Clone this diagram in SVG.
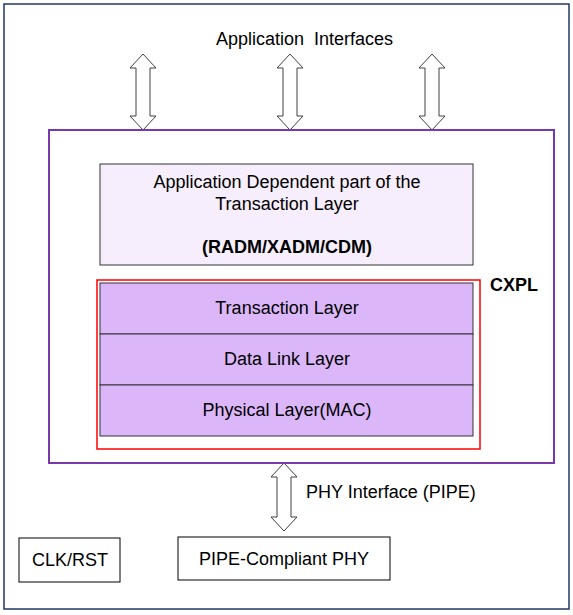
<svg xmlns="http://www.w3.org/2000/svg" width="573" height="615" viewBox="0 0 573 615">
<style>
text{font-family:"Liberation Sans",Arial,sans-serif;font-size:18px;fill:#000;text-anchor:middle}
.b{font-weight:bold}
.s{text-anchor:start}
.arr{fill:#fff;stroke:#404040;stroke-width:1}
.box{fill:#fff;stroke:#000;stroke-width:1}
.layer{fill:#dbb7fa;stroke:#333;stroke-width:1}
</style>
<defs>
<path id="dbl" d="M0,-38 L13,-24 L7,-24 L7,24 L13,24 L0,38 L-13,24 L-7,24 L-7,-24 L-13,-24 Z"/>
</defs>
<rect x="4" y="4" width="565" height="605" fill="#fff" stroke="#1f3864" stroke-width="1.5"/>
<text x="216" y="45" class="s" xml:space="preserve">Application  Interfaces</text>
<g id="connectors">
<use href="#dbl" class="arr" transform="translate(143,92)"/>
<use href="#dbl" class="arr" transform="translate(290,92)"/>
<use href="#dbl" class="arr" transform="translate(432,92)"/>
<path class="arr" d="M284,463 L297,477 L291,477 L291,517 L297,517 L284,531 L271,517 L277,517 L277,477 L271,477 Z"/>
</g>
<g id="cxpl">
<rect x="49" y="130" width="505" height="333" fill="#fff" stroke="#7a38ac" stroke-width="2"/>
<text x="490" y="291" class="b s">CXPL</text>
</g>
<g id="app-dependent">
<rect x="100" y="164" width="373" height="101" fill="#f6eefc" stroke="#333" stroke-width="1"/>
<text x="287" y="188">Application Dependent part of the</text>
<text x="287" y="210">Transaction Layer</text>
<text x="287" y="253" class="b">(RADM/XADM/CDM)</text>
</g>
<g id="core">
<rect x="97" y="280" width="383" height="169" fill="none" stroke="#ff0000" stroke-width="1.5"/>
</g>
<g id="transaction-layer">
<rect x="100" y="283" width="373" height="51" class="layer"/>
<text x="287" y="314">Transaction Layer</text>
</g>
<g id="data-link-layer">
<rect x="100" y="334" width="373" height="51" class="layer"/>
<text x="287" y="365">Data Link Layer</text>
</g>
<g id="physical-layer">
<rect x="100" y="385" width="373" height="51" class="layer"/>
<text x="287" y="416">Physical Layer(MAC)</text>
</g>
<text x="306" y="498" class="s">PHY Interface (PIPE)</text>
<g id="clk-rst">
<rect x="19" y="538" width="101" height="44" class="box"/>
<text x="70" y="566">CLK/RST</text>
</g>
<g id="pipe-phy">
<rect x="178" y="537" width="212" height="43" class="box"/>
<text x="284" y="565">PIPE-Compliant PHY</text>
</g>
</svg>
